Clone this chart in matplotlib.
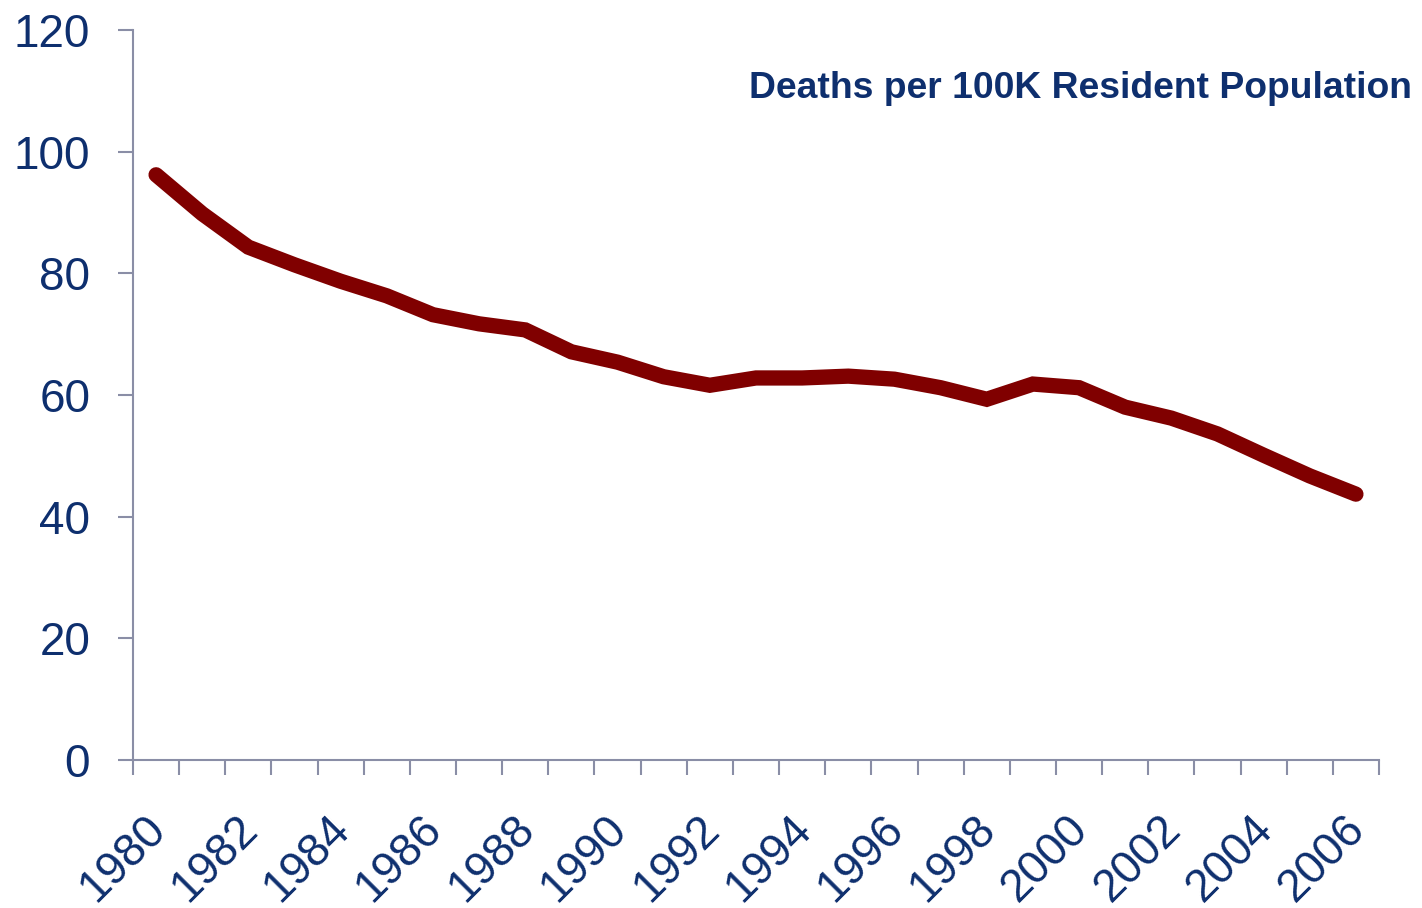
import matplotlib
matplotlib.use("Agg")
import matplotlib.pyplot as plt
import matplotlib.transforms as mtransforms
import numpy as np

years = list(range(1980, 2007))
deaths = [96.2, 89.8, 84.3, 81.4, 78.7, 76.3, 73.2, 71.7, 70.7, 67.1, 65.4, 63.0,
          61.6, 62.8, 62.8, 63.1, 62.6, 61.2, 59.3, 61.8, 61.2, 58.0, 56.2, 53.6,
          50.1, 46.7, 43.7]
y_ticks = [0, 20, 40, 60, 80, 100, 120]
x_labels = [str(y) for y in years[::2]]
title = "Deaths per 100K Resident Population"

plt.rcParams['font.family'] = ['Liberation Sans', 'DejaVu Sans']
navy = '#0E2F6E'
gray = '#8A8EA6'

fig = plt.figure(figsize=(14.22, 9.08), dpi=100)
ax = fig.add_axes([133/1422, 1 - 760/908, (1379 - 133)/1422, (760 - 30)/908])

x = np.arange(len(years))
ax.plot(x, deaths, color='#800000', linewidth=11, solid_capstyle='round',
        solid_joinstyle='miter')

ax.set_xlim(-0.5, len(years) - 0.5)
ax.set_ylim(0, 120)
ax.set_yticks(y_ticks)
ax.set_yticklabels([str(v) for v in y_ticks])

ax.set_xticks(x[::2])
ax.set_xticklabels(x_labels, rotation=45, ha='right', va='top', rotation_mode='anchor')
ax.set_xticks(np.arange(-0.5, len(years)), minor=True)

ax.tick_params(axis='y', which='major', length=10.8, width=1.5, color=gray,
               labelsize=33, labelcolor=navy, pad=20)
ax.tick_params(axis='x', which='major', length=0, labelsize=33, labelcolor=navy, pad=12)
ax.tick_params(axis='x', which='minor', length=10.8, width=1.5, color=gray)

offset = mtransforms.ScaledTranslation(-13/100, -30/100, fig.dpi_scale_trans)
for lab in ax.get_xticklabels():
    lab.set_transform(lab.get_transform() + offset)

for s in ['top', 'right']:
    ax.spines[s].set_visible(False)
for s in ['left', 'bottom']:
    ax.spines[s].set_color(gray)
    ax.spines[s].set_linewidth(1.5)

fig.text(1412/1422, 1 - 88/908, title, ha='right', va='center', fontsize=26.8,
         fontweight='bold', color=navy)

fig.savefig('out.png', dpi=100)
